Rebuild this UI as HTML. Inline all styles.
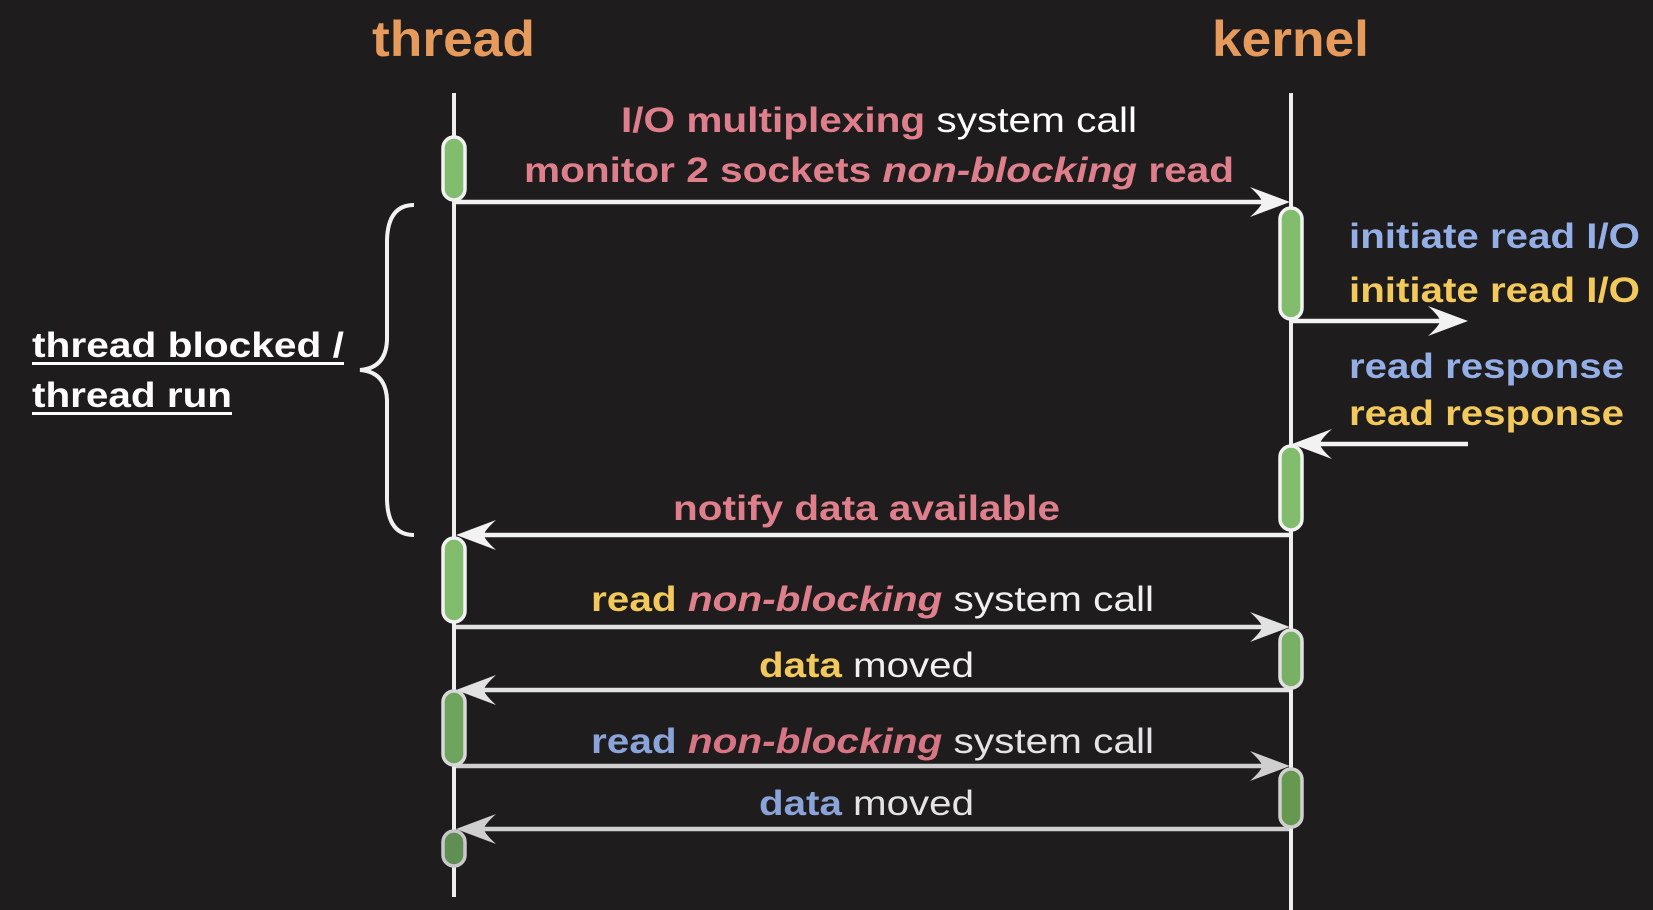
<!DOCTYPE html>
<html><head><meta charset="utf-8"><style>
html,body{margin:0;padding:0;background:#1e1c1d;}
svg{display:block;}
text{font-family:"Liberation Sans",Arial,sans-serif;}
</style></head><body>
<svg width="1653" height="910" viewBox="0 0 1653 910" xmlns="http://www.w3.org/2000/svg">
<rect width="1653" height="910" fill="#1e1c1d"/>
<!-- titles -->
<text x="372" y="56" textLength="163" lengthAdjust="spacingAndGlyphs" font-size="50" font-weight="bold" fill="#e69a5c">thread</text>
<text x="1212" y="56" textLength="157" lengthAdjust="spacingAndGlyphs" font-size="50" font-weight="bold" fill="#e69a5c">kernel</text>
<!-- lifelines -->
<line x1="454" y1="93" x2="454" y2="897" stroke="#eee" stroke-width="4"/>
<line x1="1291" y1="93" x2="1291" y2="910" stroke="#eee" stroke-width="4"/>
<!-- arrows -->
<g stroke-width="4.5" fill="none">
<g stroke="#f2f2f2">
<line x1="456" y1="202" x2="1270" y2="202"/>
<line x1="1293" y1="321" x2="1450" y2="321"/>
<line x1="1468" y1="444" x2="1310" y2="444"/>
<line x1="1289" y1="535" x2="475" y2="535"/>
</g>
<g stroke="#e2e2e2">
<line x1="456" y1="627" x2="1270" y2="627"/>
<line x1="1289" y1="690" x2="475" y2="690"/>
</g>
<g stroke="#cfcfcf">
<line x1="456" y1="766" x2="1270" y2="766"/>
<line x1="1289" y1="829" x2="475" y2="829"/>
</g>
<path d="M414,205 Q388,205 387,240 L387,340 Q386,368 360,370 Q386,372 387,400 L387,500 Q388,535 414,535" stroke="#f2f2f2" stroke-width="4"/>
</g>
<!-- arrowheads (filled barbed) -->
<g>
<path d="M1290,202 L1250,187 Q1262,198 1262,202 Q1262,206 1250,217 Z" fill="#f2f2f2"/>
<path d="M1468,321 L1428,306 Q1440,317 1440,321 Q1440,325 1428,336 Z" fill="#f2f2f2"/>
<path d="M1292,444 L1332,429 Q1320,440 1320,444 Q1320,448 1332,459 Z" fill="#f2f2f2"/>
<path d="M456,535 L496,520 Q484,531 484,535 Q484,539 496,550 Z" fill="#f2f2f2"/>
<path d="M1290,627 L1250,612 Q1262,623 1262,627 Q1262,631 1250,642 Z" fill="#e2e2e2"/>
<path d="M456,690 L496,675 Q484,686 484,690 Q484,694 496,705 Z" fill="#e2e2e2"/>
<path d="M1290,766 L1250,751 Q1262,762 1262,766 Q1262,770 1250,781 Z" fill="#cfcfcf"/>
<path d="M456,829 L496,814 Q484,825 484,829 Q484,833 496,844 Z" fill="#cfcfcf"/>
</g>
<!-- activations -->
<g stroke-width="3.5">
<rect x="443" y="137" width="22" height="63" rx="11" fill="#82bd6e" stroke="#f2f2f2"/>
<rect x="443" y="538" width="22" height="84" rx="11" fill="#82bd6e" stroke="#f2f2f2"/>
<rect x="443" y="691" width="22" height="74" rx="11" fill="#6fa45e" stroke="#d8d8d8"/>
<rect x="443" y="831" width="22" height="35" rx="11" fill="#5f8f52" stroke="#c8c8c8"/>
<rect x="1280" y="208" width="22" height="111" rx="11" fill="#82bd6e" stroke="#f2f2f2"/>
<rect x="1280" y="446" width="22" height="84" rx="11" fill="#82bd6e" stroke="#f2f2f2"/>
<rect x="1280" y="630" width="22" height="58" rx="11" fill="#78b066" stroke="#e0e0e0"/>
<rect x="1280" y="769" width="22" height="58" rx="11" fill="#67984f" stroke="#cfcfcf"/>
</g>
<!-- labels -->
<g font-size="35" font-weight="bold">
<text x="621" y="132" textLength="516" lengthAdjust="spacingAndGlyphs"><tspan fill="#e07f8c">I/O multiplexing</tspan><tspan fill="#fff" font-weight="normal"> system call</tspan></text>
<text x="524" y="182" textLength="710" lengthAdjust="spacingAndGlyphs" fill="#e07f8c">monitor 2 sockets <tspan font-style="italic">non-blocking</tspan> read</text>
<text x="1349" y="248" textLength="291" lengthAdjust="spacingAndGlyphs" fill="#94aee6">initiate read I/O</text>
<text x="1349" y="302" textLength="291" lengthAdjust="spacingAndGlyphs" fill="#f2c95a">initiate read I/O</text>
<text x="1349" y="378" textLength="275" lengthAdjust="spacingAndGlyphs" fill="#94aee6">read response</text>
<text x="1349" y="425" textLength="275" lengthAdjust="spacingAndGlyphs" fill="#f2c95a">read response</text>
<text x="673" y="520" textLength="387" lengthAdjust="spacingAndGlyphs" fill="#e07f8c">notify data available</text>
<text x="591" y="611" textLength="563" lengthAdjust="spacingAndGlyphs"><tspan fill="#f2c95a">read </tspan><tspan fill="#e07f8c" font-style="italic">non-blocking</tspan><tspan fill="#f0f0f0" font-weight="normal"> system call</tspan></text>
<text x="759" y="677" textLength="215" lengthAdjust="spacingAndGlyphs"><tspan fill="#f2c95a">data</tspan><tspan fill="#f0f0f0" font-weight="normal"> moved</tspan></text>
<text x="591" y="753" textLength="563" lengthAdjust="spacingAndGlyphs"><tspan fill="#8aa3d8">read </tspan><tspan fill="#d87584" font-style="italic">non-blocking</tspan><tspan fill="#e4e4e4" font-weight="normal"> system call</tspan></text>
<text x="759" y="815" textLength="215" lengthAdjust="spacingAndGlyphs"><tspan fill="#8aa3d8">data</tspan><tspan fill="#e4e4e4" font-weight="normal"> moved</tspan></text>
<text x="32" y="357" textLength="312" lengthAdjust="spacingAndGlyphs" fill="#fff">thread blocked /</text>
<text x="32" y="407" textLength="200" lengthAdjust="spacingAndGlyphs" fill="#fff">thread run</text>
</g>
<rect x="32" y="362" width="312" height="3" fill="#fff"/>
<rect x="32" y="412" width="200" height="3" fill="#fff"/>
</svg>
</body></html>
